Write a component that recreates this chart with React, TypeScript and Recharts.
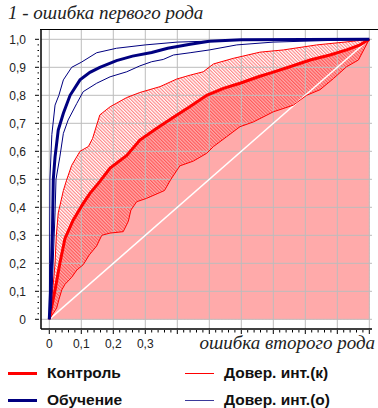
import { ComposedChart, Line, Area, XAxis, YAxis } from "recharts";

// ROC: [ошибка второго рода, 1 - ошибка первого рода]
const controlRoc = [
  [0, 0], [0.0075, 0.045], [0.018, 0.105], [0.033, 0.2], [0.049, 0.289], [0.075, 0.355],
  [0.106, 0.414], [0.127, 0.45], [0.155, 0.488], [0.19, 0.54], [0.242, 0.585], [0.283, 0.64],
  [0.336, 0.682], [0.388, 0.722], [0.44, 0.76], [0.492, 0.8], [0.544, 0.825], [0.596, 0.843],
  [0.658, 0.868], [0.69, 0.879], [0.752, 0.902], [0.815, 0.926], [0.877, 0.944], [0.929, 0.962],
  [0.971, 0.98], [1, 1],
];
const controlLow = [
  [0, 0], [0.023, 0.04], [0.03, 0.07], [0.039, 0.105], [0.049, 0.125], [0.07, 0.15],
  [0.086, 0.176], [0.106, 0.195], [0.125, 0.23], [0.148, 0.262], [0.164, 0.3], [0.19, 0.308],
  [0.231, 0.313], [0.247, 0.35], [0.255, 0.39], [0.273, 0.42], [0.304, 0.432], [0.36, 0.46],
  [0.38, 0.5], [0.408, 0.548], [0.45, 0.565], [0.492, 0.593], [0.513, 0.617], [0.554, 0.652],
  [0.596, 0.688], [0.638, 0.705], [0.7, 0.741], [0.763, 0.765], [0.804, 0.8], [0.846, 0.82],
  [0.888, 0.86], [0.929, 0.902], [0.966, 0.926], [0.987, 0.972], [1, 1],
];
const controlHigh = [
  [0, 0], [0.005, 0.05], [0.012, 0.12], [0.018, 0.2], [0.022, 0.3], [0.028, 0.38],
  [0.044, 0.46], [0.054, 0.497], [0.07, 0.55], [0.096, 0.6], [0.122, 0.617], [0.135, 0.645],
  [0.158, 0.73], [0.19, 0.759], [0.242, 0.792], [0.283, 0.81], [0.346, 0.831], [0.398, 0.858],
  [0.44, 0.872], [0.481, 0.884], [0.513, 0.912], [0.575, 0.932], [0.658, 0.954], [0.731, 0.962],
  [0.836, 0.98], [0.94, 0.992], [1, 1],
];
const trainRoc = [
  [0, 0], [0.004, 0.1], [0.007, 0.2], [0.01, 0.32], [0.0125, 0.5], [0.018, 0.58],
  [0.028, 0.676], [0.044, 0.736], [0.065, 0.8], [0.096, 0.855], [0.127, 0.882], [0.158, 0.9],
  [0.21, 0.924], [0.26, 0.94], [0.32, 0.953], [0.37, 0.968], [0.44, 0.982], [0.5, 0.993],
  [0.6, 0.998], [1, 1],
];
const trainLow = [
  [0, 0], [0.007, 0.045], [0.012, 0.2], [0.018, 0.38], [0.021, 0.5], [0.033, 0.58],
  [0.044, 0.664], [0.059, 0.712], [0.086, 0.771], [0.106, 0.813], [0.148, 0.843], [0.19, 0.866],
  [0.242, 0.884], [0.283, 0.905], [0.32, 0.92], [0.356, 0.928], [0.388, 0.944], [0.44, 0.952],
  [0.5, 0.962], [0.586, 0.98], [0.7, 0.99], [1, 1],
];
const trainHigh = [
  [0, 0], [0.001, 0.2], [0.002, 0.5], [0.008, 0.66], [0.018, 0.765], [0.03, 0.8],
  [0.044, 0.855], [0.07, 0.9], [0.1, 0.918], [0.148, 0.952], [0.21, 0.968], [0.3, 0.98],
  [0.4, 0.99], [0.6, 0.997], [1, 1],
];
const diagonal = [[0, 0], [1, 1]];

const xLabels = ["0", "0,1", "0,2", "0,3"];
const yLabels = ["0", "0,1", "0,2", "0,3", "0,4", "0,5", "0,6", "0,7", "0,8", "0,9", "1,0"];
const gridSteps = [0, 0.1, 0.2, 0.3, 0.4, 0.5, 0.6, 0.7, 0.8, 0.9, 1];
const minorTicks = Array.from({ length: 51 }, (_, i) => i / 50);

const X_DOMAIN = [-0.0259, 1.0084];
const Y_DOMAIN = [-0.0346, 1.0368];

const toPts = (arr: number[][]) => arr.map(([x, y]) => ({ x, y }));

// grid drawn as line series: areas cover the axis/grid layer, lines sit above them
const gridLines = [
  ...gridSteps.map((v) => [{ x: v, y: Y_DOMAIN[0] }, { x: v, y: Y_DOMAIN[1] }]),
  ...gridSteps.map((v) => [{ x: X_DOMAIN[0], y: v }, { x: X_DOMAIN[1], y: v }]),
];

const RED = "#ff0000";
const NAVY = "#000080";
const PINK = "#ffaaaa";
const GRID = "#bcbcbc";
const SANS = "'Liberation Sans', Arial, sans-serif";
const SERIF = "'Liberation Serif', 'Times New Roman', serif";

const isMajor = (v: number) => Math.abs(v * 10 - Math.round(v * 10)) < 1e-6;

const XTick = ({ x, y, payload }: any) => {
  const v = payload.value;
  const major = isMajor(v);
  const idx = Math.round(v * 10);
  const label = major && idx < xLabels.length ? xLabels[idx] : null;
  return (
    <g>
      <line x1={x} x2={x} y1={y + 1} y2={y + (major ? 5 : 3.5)} stroke="#000" />
      {label && (
        <text x={x} y={y + 19} textAnchor="middle" fontSize={12} fill="#222" fontFamily={SANS}>
          {label}
        </text>
      )}
    </g>
  );
};

const YTick = ({ x, y, payload }: any) => {
  const v = payload.value;
  const major = isMajor(v);
  const label = major ? yLabels[Math.round(v * 10)] : null;
  return (
    <g>
      <line x1={major ? x - 6 : x - 3.5} x2={x - 2} y1={y} y2={y} stroke="#000" />
      {label && (
        <text x={x - 15} y={y + 4.5} textAnchor="end" fontSize={12} fill="#222" fontFamily={SANS}>
          {label}
        </text>
      )}
    </g>
  );
};

const legendItems = [
  { label: "Контроль", color: RED, width: 3, left: 8, top: 373 },
  { label: "Обучение", color: NAVY, width: 3, left: 8, top: 400 },
  { label: "Довер. инт.(к)", color: RED, width: 1, left: 185, top: 373 },
  { label: "Довер. инт.(о)", color: "#3a3a9a", width: 1, left: 185, top: 400 },
];

export default function App() {
  return (
    <div style={{ position: "absolute", left: 0, top: 0, width: 378, height: 408, background: "#fff", overflow: "hidden" }}>
      <div style={{ position: "absolute", left: 8, top: 2, fontFamily: SERIF, fontStyle: "italic", fontSize: 19, color: "#222", whiteSpace: "nowrap" }}>
        1 - ошибка первого рода
      </div>

      <ComposedChart width={378} height={360} margin={{ top: 29, right: 6, bottom: 1, left: 0 }}>
        <defs>
          <pattern id="hatch" patternUnits="userSpaceOnUse" width={2.4} height={2.4} patternTransform="rotate(-45)">
            <line x1={0.6} y1={0} x2={0.6} y2={2.4} stroke="rgba(255,0,0,0.55)" strokeWidth={1} />
          </pattern>
        </defs>
        <XAxis
          type="number"
          dataKey="x"
          domain={X_DOMAIN}
          allowDataOverflow
          ticks={minorTicks}
          interval={0}
          tick={<XTick />}
          tickLine={false}
          tickSize={0}
          tickMargin={0}
          height={30}
          axisLine={{ stroke: "#000", strokeWidth: 1.5 }}
        />
        <YAxis
          type="number"
          dataKey="y"
          domain={Y_DOMAIN}
          allowDataOverflow
          ticks={minorTicks}
          interval={0}
          tick={<YTick />}
          tickLine={false}
          tickSize={0}
          tickMargin={0}
          width={41}
          axisLine={{ stroke: "#000", strokeWidth: 1.5 }}
        />
        <Area data={toPts(controlRoc)} dataKey="y" type="linear" stroke="none" fill={PINK} fillOpacity={1} isAnimationActive={false} />
        <Area data={toPts(controlHigh)} dataKey="y" type="linear" stroke="none" fill="url(#hatch)" fillOpacity={1} isAnimationActive={false} />
        <Area data={toPts(controlLow)} dataKey="y" type="linear" stroke="none" fill={PINK} fillOpacity={1} isAnimationActive={false} />
        {gridLines.map((pts, i) => (
          <Line key={"grid" + i} data={pts} dataKey="y" type="linear" stroke={GRID} strokeWidth={1} dot={false} activeDot={false} isAnimationActive={false} />
        ))}
        <Line data={toPts(diagonal)} dataKey="y" type="linear" stroke="#fff" strokeWidth={1.5} dot={false} isAnimationActive={false} />
        <Line data={toPts(controlLow)} dataKey="y" type="linear" stroke={RED} strokeWidth={1} dot={false} isAnimationActive={false} />
        <Line data={toPts(controlHigh)} dataKey="y" type="linear" stroke={RED} strokeWidth={1} dot={false} isAnimationActive={false} />
        <Line data={toPts(controlRoc)} dataKey="y" type="linear" stroke={RED} strokeWidth={3} dot={false} isAnimationActive={false} />
        <Line data={toPts(trainLow)} dataKey="y" type="linear" stroke={NAVY} strokeWidth={1} dot={false} isAnimationActive={false} />
        <Line data={toPts(trainHigh)} dataKey="y" type="linear" stroke={NAVY} strokeWidth={1} dot={false} isAnimationActive={false} />
        <Line data={toPts(trainRoc)} dataKey="y" type="linear" stroke={NAVY} strokeWidth={3} dot={false} isAnimationActive={false} />
      </ComposedChart>

      <div style={{ position: "absolute", left: 40, top: 28.5, width: 338, height: 1.5, background: "#000" }} />
      <div style={{ position: "absolute", right: 3, top: 332, fontFamily: SERIF, fontStyle: "italic", fontSize: 19, color: "#222", whiteSpace: "nowrap" }}>
        ошибка второго рода
      </div>
      {legendItems.map((it) => (
        <div key={it.label} style={{ position: "absolute", left: it.left, top: it.top - 10, height: 20, display: "flex", alignItems: "center", whiteSpace: "nowrap" }}>
          <div style={{ width: 29, height: it.width, background: it.color }} />
          <span style={{ marginLeft: 10, fontFamily: SANS, fontWeight: "bold", fontSize: 15.5, color: "#111" }}>{it.label}</span>
        </div>
      ))}
    </div>
  );
}
